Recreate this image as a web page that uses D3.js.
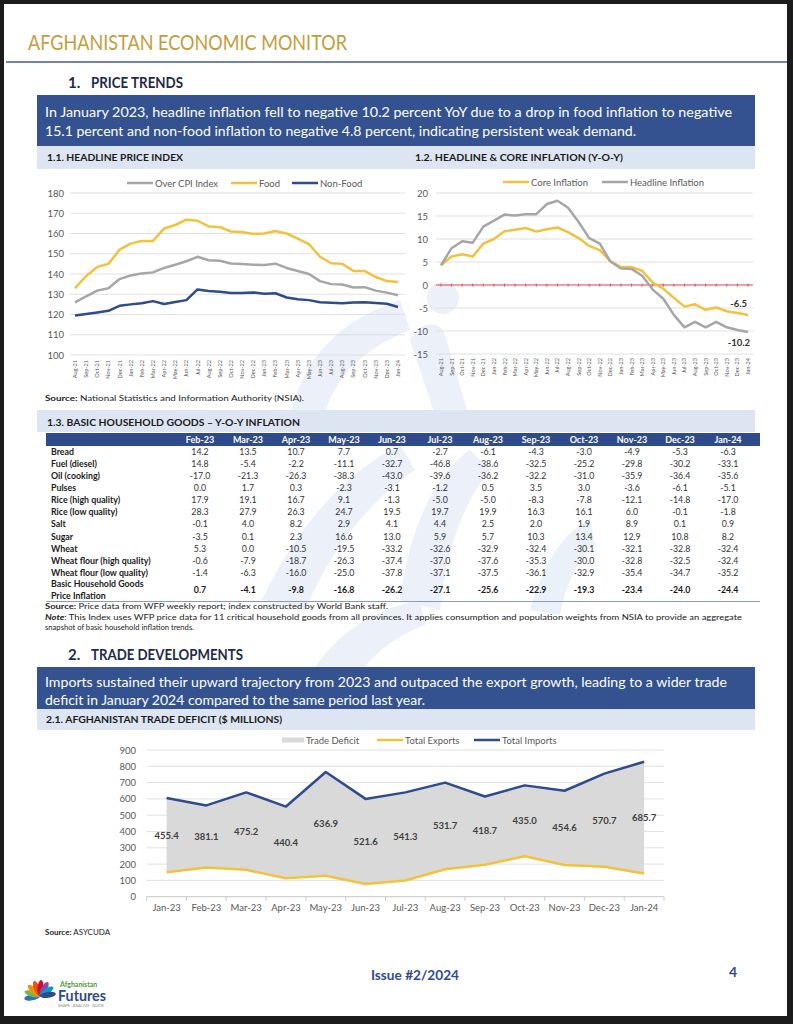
<!DOCTYPE html>
<html>
<head>
<meta charset="utf-8">
<script src="https://cdn.jsdelivr.net/npm/d3@7"></script>
<style>
  body { margin: 0; background: #1c1c1c; }
  svg text { font-family: Lato, "Open Sans", sans-serif; }
</style>
</head>
<body>
<div id="page"></div>
<script>
// ---- data ----
const cpiMonths = ['Aug-21','Sep-21','Oct-21','Nov-21','Dec-21','Jan-22','Feb-22','Mar-22','Apr-22','May-22',
  'Jun-22','Jul-22','Aug-22','Sep-22','Oct-22','Nov-22','Dec-22','Jan-23','Feb-23','Mar-23','Apr-23','May-23',
  'Jun-23','Jul-23','Aug-23','Sep-23','Oct-23','Nov-23','Dec-23','Jan-24'];
const cpiOverall = [126, 129, 131.8, 133, 137.5, 139.3, 140.3, 140.8, 143, 144.6, 146.3, 148.5, 146.8, 146.5, 145.2,
  144.9, 144.6, 144.4, 145.1, 143, 141.5, 140, 136.5, 135, 134.8, 133.3, 133.5, 131.8, 130.8, 129.5];
const cpiFood = [133, 139, 143.5, 145, 152, 155, 156.3, 156.3, 162.5, 164.2, 166.8, 166.3, 163.5, 163.2, 161,
  160.7, 159.8, 160, 161.2, 160, 157.5, 154.8, 148.5, 145.3, 145, 141.5, 141.5, 138.5, 136.5, 136];
const cpiNonFood = [119.5, 120.2, 121, 121.8, 124.3, 125, 125.6, 126.6, 125.2, 126.2, 127.1, 132.4, 131.6, 131.2,
  130.6, 130.6, 130.9, 130.2, 130.5, 128.4, 127.5, 127.1, 126.1, 125.8, 125.6, 125.9, 126.1, 125.7, 125.3, 123.7];
const cpiTicks = [100, 110, 120, 130, 140, 150, 160, 170, 180];

const coreInflation = [4.3, 6.2, 6.7, 6.2, 9, 10, 11.7, 12, 12.4, 11.6, 12.1, 12.5, 11.5, 10.2, 8.5, 7.6, 5.2,
  3.9, 3.9, 3.1, 0.5, -0.8, -2.8, -4.7, -4.2, -5.4, -4.9, -5.7, -6.1, -6.5];
const headlineInflation = [4.3, 8, 9.5, 9.2, 12.7, 14, 15.3, 15.1, 15.4, 15.4, 17.6, 18.3, 16.8, 13.7, 10.2, 9,
  5.1, 3.6, 3.5, 2, -1, -3, -6.5, -9.2, -8, -9.2, -8, -9.2, -9.8, -10.2];
const inflTicks = [-15, -10, -5, 0, 5, 10, 15, 20];

const goodsMonths = ['Feb-23','Mar-23','Apr-23','May-23','Jun-23','Jul-23','Aug-23','Sep-23','Oct-23','Nov-23','Dec-23','Jan-24'];
const goodsNames = ['Bread','Fuel (diesel)','Oil (cooking)','Pulses','Rice (high quality)','Rice (low quality)',
  'Salt','Sugar','Wheat','Wheat flour (high quality)','Wheat flour (low quality)'];
const goodsInflation = [
  [14.2, 13.5, 10.7, 7.7, 0.7, -2.7, -6.1, -4.3, -3.0, -4.9, -5.3, -6.3],
  [14.8, -5.4, -2.2, -11.1, -32.7, -46.8, -38.6, -32.5, -25.2, -29.8, -30.2, -33.1],
  [-17.0, -21.3, -26.3, -38.3, -43.0, -39.6, -36.2, -32.2, -31.0, -35.9, -36.4, -35.6],
  [0.0, 1.7, 0.3, -2.3, -3.1, -1.2, 0.5, 3.5, 3.0, -3.6, -6.1, -5.1],
  [17.9, 19.1, 16.7, 9.1, -1.3, -5.0, -5.0, -8.3, -7.8, -12.1, -14.8, -17.0],
  [28.3, 27.9, 26.3, 24.7, 19.5, 19.7, 19.9, 16.3, 16.1, 6.0, -0.1, -1.8],
  [-0.1, 4.0, 8.2, 2.9, 4.1, 4.4, 2.5, 2.0, 1.9, 8.9, 0.1, 0.9],
  [-3.5, 0.1, 2.3, 16.6, 13.0, 5.9, 5.7, 10.3, 13.4, 12.9, 10.8, 8.2],
  [5.3, 0.0, -10.5, -19.5, -33.2, -32.6, -32.9, -32.4, -30.1, -32.1, -32.8, -32.4],
  [-0.6, -7.9, -18.7, -26.3, -37.4, -37.0, -37.6, -35.3, -30.0, -32.8, -32.5, -32.4],
  [-1.4, -6.3, -16.0, -25.0, -37.8, -37.1, -37.5, -36.1, -32.9, -35.4, -34.7, -35.2]
];
const basketInflation = [0.7, -4.1, -9.8, -16.8, -26.2, -27.1, -25.6, -22.9, -19.3, -23.4, -24.0, -24.4];

const tradeMonths = ['Jan-23','Feb-23','Mar-23','Apr-23','May-23','Jun-23','Jul-23','Aug-23','Sep-23','Oct-23','Nov-23','Dec-23','Jan-24'];
const tradeImports = [605, 560, 640, 553, 765, 600, 640, 700, 615, 683, 650, 755, 828];
const tradeExports = [150, 179, 165, 113, 128, 78, 99, 168, 196, 248, 195, 184, 142];
const tradeDeficit = [455.4, 381.1, 475.2, 440.4, 636.9, 521.6, 541.3, 531.7, 418.7, 435.0, 454.6, 570.7, 685.7];
const tradeTicks = [0, 100, 200, 300, 400, 500, 600, 700, 800, 900];

// ---- colours ----
const GOLD = '#f2c23c', GREY = '#a6a6a6', NAVY = '#2f4b8c', BOX = '#33528f', BAND = '#dde5f2';

const svg = d3.select('#page').append('svg').attr('width', 793).attr('height', 1024);

// page sheet on dark frame
svg.append('rect').attr('width', 793).attr('height', 1024).attr('fill', '#1c1c1c');
svg.append('rect').attr('x', 4).attr('y', 4).attr('width', 783).attr('height', 1012).attr('fill', '#fff');

// faint watermark behind everything
const wm = svg.append('g').attr('fill', '#e8eef8').attr('opacity', 0.85);
wm.append('circle').attr('cx', 443).attr('cy', 298).attr('r', 16);
wm.append('path').attr('d', 'M290,420 C300,360 340,320 400,300 L410,330 C360,350 330,380 320,430 Z');
wm.append('path').attr('d', 'M410,340 C420,320 440,320 445,335 L470,420 L440,430 Z');
wm.append('path').attr('d', 'M262,600 C300,520 350,470 400,445 L415,470 C370,500 330,550 305,610 Z');
wm.append('path').attr('d', 'M400,600 C410,520 440,470 470,450 L490,470 C465,500 445,550 440,610 Z');
wm.append('path').attr('d', 'M530,610 C545,560 565,530 590,520 L595,545 C575,560 565,590 560,615 Z');
wm.append('path').attr('d', 'M300,700 C320,640 370,610 420,600 L425,625 C385,640 350,670 340,720 Z');

function label(g, x, y, str, o = {}) {
  const t = g.append('text').attr('x', x).attr('y', y).text(str)
    .attr('font-size', o.size || 10)
    .attr('fill', o.fill || '#222')
    .attr('font-weight', o.weight || 'normal')
    .attr('text-anchor', o.anchor || 'start');
  if (o.len) t.attr('textLength', o.len).attr('lengthAdjust', 'spacingAndGlyphs');
  if (o.family) t.attr('font-family', o.family);
  return t;
}

// header
label(svg, 28, 50, 'AFGHANISTAN ECONOMIC MONITOR', { size: 21, fill: '#c49d3c', len: 319 });
svg.append('line').attr('x1', 6).attr('x2', 787).attr('y1', 62).attr('y2', 62)
  .attr('stroke', '#3f5a93').attr('stroke-width', 1.6);

// section 1
const HEAD = '#1f2a48';
label(svg, 68, 88, '1.', { size: 15, weight: 'bold', fill: HEAD });
label(svg, 91, 88, 'PRICE TRENDS', { size: 15, weight: 'bold', fill: HEAD, len: 92 });

svg.append('rect').attr('x', 37).attr('y', 95).attr('width', 718).attr('height', 51).attr('fill', BOX);
label(svg, 45, 117, 'In January 2023, headline inflation fell to negative 10.2 percent YoY due to a drop in food inflation to negative',
  { size: 14, fill: '#fff', len: 687 });
label(svg, 45, 136, '15.1 percent and non-food inflation to negative 4.8 percent, indicating persistent weak demand.',
  { size: 14, fill: '#fff', len: 591 });

svg.append('rect').attr('x', 37).attr('y', 146).attr('width', 718).attr('height', 23).attr('fill', BAND);
label(svg, 47, 161, '1.1. HEADLINE PRICE INDEX', { size: 10, weight: 'bold', fill: '#1a1a1a', len: 136 });
label(svg, 415, 161, '1.2. HEADLINE & CORE INFLATION (Y-O-Y)', { size: 10, weight: 'bold', fill: '#1a1a1a', len: 208 });

// generic helpers for the two small line charts
function lineLegend(g, items, y) {
  items.forEach(it => {
    g.append('line').attr('x1', it.x).attr('x2', it.x + 26).attr('y1', y).attr('y2', y)
      .attr('stroke', it.color).attr('stroke-width', it.w || 2.5);
    label(g, it.x + 28, y + 3.5, it.name, { size: 9.5, fill: '#595959' });
  });
}

function rotatedMonths(g, x, months, yTop) {
  g.selectAll('text.mlab').data(months).enter().append('text')
    .attr('class', 'mlab')
    .attr('transform', (d, i) => `translate(${x(i) + 2},${yTop}) rotate(-90)`)
    .attr('text-anchor', 'end')
    .attr('font-size', 5.6)
    .attr('fill', '#595959')
    .text(d => d);
}

// ---- chart 1.1 headline price index ----
const c1 = svg.append('g');
const x1 = d3.scaleLinear().domain([0, cpiMonths.length - 1]).range([75, 398]);
const y1 = d3.scaleLinear().domain([100, 180]).range([355, 193]);
c1.selectAll('line.grid').data(cpiTicks).enter().append('line')
  .attr('x1', 70).attr('x2', 405).attr('y1', d => y1(d)).attr('y2', d => y1(d))
  .attr('stroke', '#d9d9d9').attr('stroke-width', 0.8);
c1.selectAll('text.yl').data(cpiTicks).enter().append('text')
  .attr('x', 64).attr('y', d => y1(d) + 3.5).attr('text-anchor', 'end')
  .attr('font-size', 9.5).attr('fill', '#595959').text(d => d);
rotatedMonths(c1, x1, cpiMonths, 360);
const line1 = d3.line().x((d, i) => x1(i)).y(d => y1(d));
[[cpiOverall, GREY], [cpiFood, GOLD], [cpiNonFood, NAVY]].forEach(([s, col]) => {
  c1.append('path').attr('d', line1(s)).attr('fill', 'none').attr('stroke', col)
    .attr('stroke-width', 2.5).attr('stroke-linejoin', 'round');
});
lineLegend(c1, [
  { x: 127, color: GREY, name: 'Over CPI Index' },
  { x: 231, color: GOLD, name: 'Food' },
  { x: 292, color: NAVY, name: 'Non-Food' }
], 183);

const src1 = svg.append('text').attr('x', 45).attr('y', 401).attr('font-size', 8).attr('fill', '#222')
  .attr('textLength', 259).attr('lengthAdjust', 'spacingAndGlyphs');
src1.append('tspan').attr('font-weight', 'bold').text('Source:');
src1.append('tspan').text(' National Statistics and Information Authority (NSIA).');

// ---- chart 1.2 headline & core inflation ----
const c2 = svg.append('g');
const x2 = d3.scaleLinear().domain([0, cpiMonths.length - 1]).range([441, 748]);
const y2 = d3.scaleLinear().domain([-15, 20]).range([354, 193]);
c2.selectAll('line.grid').data(inflTicks.filter(d => d !== 0)).enter().append('line')
  .attr('x1', 436).attr('x2', 753).attr('y1', d => y2(d)).attr('y2', d => y2(d))
  .attr('stroke', '#d9d9d9').attr('stroke-width', 0.8);
c2.selectAll('text.yl').data(inflTicks).enter().append('text')
  .attr('x', 428).attr('y', d => y2(d) + 3.5).attr('text-anchor', 'end')
  .attr('font-size', 9.5).attr('fill', '#595959').text(d => d);
rotatedMonths(c2, x2, cpiMonths, 358);
// red zero axis with small ticks
c2.append('line').attr('x1', 436).attr('x2', 753).attr('y1', y2(0)).attr('y2', y2(0))
  .attr('stroke', '#d9454b').attr('stroke-width', 1.2);
c2.selectAll('line.zt').data(cpiMonths).enter().append('line')
  .attr('x1', (d, i) => x2(i)).attr('x2', (d, i) => x2(i))
  .attr('y1', y2(0) - 1.5).attr('y2', y2(0) + 1.8)
  .attr('stroke', '#d9454b').attr('stroke-width', 0.8);
const line2 = d3.line().x((d, i) => x2(i)).y(d => y2(d));
[[coreInflation, GOLD], [headlineInflation, GREY]].forEach(([s, col]) => {
  c2.append('path').attr('d', line2(s)).attr('fill', 'none').attr('stroke', col)
    .attr('stroke-width', 2.5).attr('stroke-linejoin', 'round');
});
const lastI = cpiMonths.length - 1;
label(c2, x2(lastI) - 1, y2(coreInflation[lastI]) - 8, coreInflation[lastI].toFixed(1),
  { size: 9.5, weight: 'bold', fill: '#333', anchor: 'end' });
label(c2, x2(lastI) + 2, y2(headlineInflation[lastI]) + 14, headlineInflation[lastI].toFixed(1),
  { size: 9.5, weight: 'bold', fill: '#333', anchor: 'end' });
lineLegend(c2, [
  { x: 503, color: GOLD, name: 'Core Inflation' },
  { x: 602, color: GREY, name: 'Headline Inflation' }
], 182);

// ---- table 1.3 ----
svg.append('rect').attr('x', 37).attr('y', 410).attr('width', 718).attr('height', 22).attr('fill', BAND);
label(svg, 47, 426, '1.3. BASIC HOUSEHOLD GOODS \u2013 Y-O-Y INFLATION', { size: 10, weight: 'bold', fill: '#1a1a1a', len: 253 });

const tb = svg.append('g');
const colX = d3.scaleBand().domain(goodsMonths).range([176, 752]);
const rowY = d3.scaleBand().domain(goodsNames).range([445.6, 578.7]);
tb.append('rect').attr('x', 46).attr('y', 433).attr('width', 714).attr('height', 13).attr('fill', NAVY);
tb.selectAll('text.mh').data(goodsMonths).enter().append('text')
  .attr('x', d => colX(d) + colX.bandwidth() / 2).attr('y', 442.8)
  .attr('text-anchor', 'middle').attr('font-size', 9).attr('font-weight', 'bold')
  .attr('fill', '#fff').text(d => d);
goodsNames.forEach((name, r) => {
  const cy = rowY(name) + rowY.bandwidth() / 2;
  label(tb, 51, cy + 3.2, name, { size: 8.8, weight: 'bold', fill: '#1a1a1a' });
  goodsMonths.forEach((m, c) => {
    label(tb, colX(m) + colX.bandwidth() / 2, cy + 3.2, goodsInflation[r][c].toFixed(1),
      { size: 8.8, fill: '#333', anchor: 'middle' });
  });
});
label(tb, 51, 587, 'Basic Household Goods', { size: 8.8, weight: 'bold', fill: '#1a1a1a' });
label(tb, 51, 598.5, 'Price Inflation', { size: 8.8, weight: 'bold', fill: '#1a1a1a' });
goodsMonths.forEach((m, c) => {
  label(tb, colX(m) + colX.bandwidth() / 2, 593, basketInflation[c].toFixed(1),
    { size: 8.8, weight: 'bold', fill: '#1a1a1a', anchor: 'middle' });
});
tb.append('line').attr('x1', 46).attr('x2', 760).attr('y1', 601.5).attr('y2', 601.5)
  .attr('stroke', '#8b9bbd').attr('stroke-width', 1);

const src2 = svg.append('text').attr('x', 45).attr('y', 609).attr('font-size', 7.6).attr('fill', '#222')
  .attr('textLength', 343).attr('lengthAdjust', 'spacingAndGlyphs');
src2.append('tspan').attr('font-weight', 'bold').text('Source:');
src2.append('tspan').text(' Price data from WFP weekly report; index constructed by World Bank staff.');
const note = svg.append('text').attr('x', 45).attr('y', 620).attr('font-size', 7.6).attr('fill', '#222')
  .attr('textLength', 697).attr('lengthAdjust', 'spacingAndGlyphs');
note.append('tspan').attr('font-weight', 'bold').attr('font-style', 'italic').text('Note');
note.append('tspan').text(': This Index uses WFP price data for 11 critical household goods from all provinces. It applies consumption and population weights from NSIA to provide an aggregate');
label(svg, 45, 630, 'snapshot of basic household inflation trends.', { size: 7.6, fill: '#222', len: 149 });

// section 2
label(svg, 68, 660, '2.', { size: 15, weight: 'bold', fill: HEAD });
label(svg, 91, 660, 'TRADE DEVELOPMENTS', { size: 15, weight: 'bold', fill: HEAD, len: 152 });
svg.append('rect').attr('x', 37).attr('y', 667).attr('width', 718).attr('height', 42).attr('fill', BOX);
label(svg, 45, 687, 'Imports sustained their upward trajectory from 2023 and outpaced the export growth, leading to a wider trade',
  { size: 14, fill: '#fff', len: 682 });
label(svg, 45, 705, 'deficit in January 2024 compared to the same period last year.', { size: 14, fill: '#fff', len: 380 });
svg.append('rect').attr('x', 37).attr('y', 709).attr('width', 718).attr('height', 21).attr('fill', BAND);
label(svg, 46, 723, '2.1. AFGHANISTAN TRADE DEFICIT ($ MILLIONS)', { size: 10, weight: 'bold', fill: '#1a1a1a', len: 236 });

// ---- chart 2.1 trade ----
const c3 = svg.append('g');
const x3 = d3.scaleBand().domain(tradeMonths).range([146.7, 664]);
const cx3 = m => x3(m) + x3.bandwidth() / 2;
const y3 = d3.scaleLinear().domain([0, 900]).range([896.7, 750]);
c3.selectAll('line.grid').data(tradeTicks.filter(d => d > 0)).enter().append('line')
  .attr('x1', 146.7).attr('x2', 664).attr('y1', d => y3(d)).attr('y2', d => y3(d))
  .attr('stroke', '#d9d9d9').attr('stroke-width', 0.8);
c3.selectAll('text.yl').data(tradeTicks).enter().append('text')
  .attr('x', 136).attr('y', d => y3(d) + 3.5).attr('text-anchor', 'end')
  .attr('font-size', 9.5).attr('fill', '#595959').text(d => d);
const tradeRows = tradeMonths.map((m, i) => ({ m, imp: tradeImports[i], exp: tradeExports[i], def: tradeDeficit[i] }));
c3.append('path').datum(tradeRows)
  .attr('d', d3.area().x(d => cx3(d.m)).y0(d => y3(d.exp)).y1(d => y3(d.imp)))
  .attr('fill', '#d9d9d9');
// x axis
c3.append('line').attr('x1', 146.7).attr('x2', 664).attr('y1', y3(0)).attr('y2', y3(0))
  .attr('stroke', '#c8c8c8').attr('stroke-width', 1);
c3.selectAll('line.xt').data(tradeMonths.concat(['end'])).enter().append('line')
  .attr('x1', (d, i) => 146.7 + i * x3.bandwidth()).attr('x2', (d, i) => 146.7 + i * x3.bandwidth())
  .attr('y1', y3(0)).attr('y2', y3(0) + 4).attr('stroke', '#c8c8c8').attr('stroke-width', 1);
c3.selectAll('text.xl').data(tradeMonths).enter().append('text')
  .attr('x', d => cx3(d)).attr('y', 911).attr('text-anchor', 'middle')
  .attr('font-size', 9.5).attr('fill', '#595959').text(d => d);
c3.append('path').datum(tradeRows).attr('d', d3.line().x(d => cx3(d.m)).y(d => y3(d.exp)))
  .attr('fill', 'none').attr('stroke', GOLD).attr('stroke-width', 2.5).attr('stroke-linejoin', 'round');
c3.append('path').datum(tradeRows).attr('d', d3.line().x(d => cx3(d.m)).y(d => y3(d.imp)))
  .attr('fill', 'none').attr('stroke', NAVY).attr('stroke-width', 2.5).attr('stroke-linejoin', 'round');
c3.selectAll('text.dl').data(tradeRows).enter().append('text')
  .attr('x', d => cx3(d.m)).attr('y', d => y3(d.exp + d.def / 2) + 3.5)
  .attr('text-anchor', 'middle').attr('font-size', 9.5).attr('font-weight', 'bold')
  .attr('fill', '#404040').text(d => d.def.toFixed(1));
// legend
c3.append('rect').attr('x', 282).attr('y', 737.5).attr('width', 22).attr('height', 5).attr('fill', '#d9d9d9');
label(c3, 306, 743.5, 'Trade Deficit', { size: 9.5, fill: '#595959' });
lineLegend(c3, [
  { x: 377, color: GOLD, name: 'Total Exports' },
  { x: 474, color: NAVY, name: 'Total Imports' }
], 740);

const src3 = svg.append('text').attr('x', 45).attr('y', 935).attr('font-size', 8).attr('fill', '#222');
src3.append('tspan').attr('font-weight', 'bold').text('Source:');
src3.append('tspan').text(' ASYCUDA');

// footer
label(svg, 415, 980, 'Issue #2/2024', { size: 14, weight: 'bold', fill: '#2f4b8c', anchor: 'middle', len: 88 });
label(svg, 733, 977, '4', { size: 14, weight: 'bold', fill: '#2f4b8c', anchor: 'middle' });

const logo = svg.append('g').attr('transform', 'translate(40,996)');
const petals = ['#2e6fb7', '#7ab648', '#f39200', '#e94e1b', '#c8102e', '#8e44ad', '#00a0c6', '#2e4a8b'];
petals.forEach((c, i) => {
  logo.append('ellipse').attr('cx', 0).attr('cy', -8).attr('rx', 3).attr('ry', 8)
    .attr('fill', c).attr('transform', `rotate(${-100 + i * 26})`);
});
label(svg, 60, 987, 'Afghanistan', { size: 7, fill: '#4f9a3a', weight: 'bold' });
label(svg, 58, 1001, 'Futures', { size: 15, fill: '#2e4a8b', weight: 'bold', len: 48 });
label(svg, 58, 1007, 'SHAPE · ANALYZE · GUIDE', { size: 3, fill: '#888', len: 46 });
</script>
</body>
</html>
